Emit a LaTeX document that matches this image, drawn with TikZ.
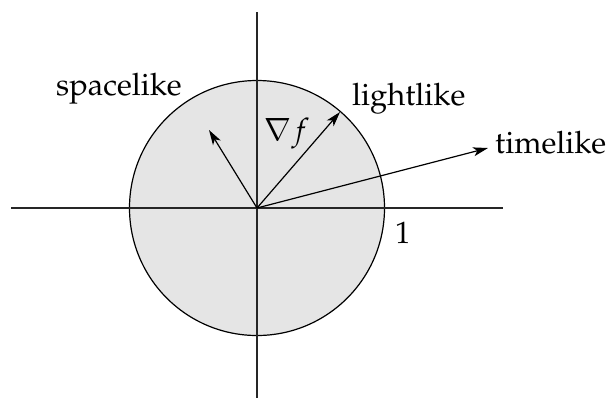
\documentclass[tikz,border=0pt]{standalone}
\usepackage[T1]{fontenc}
\usepackage{mathpazo}
\usetikzlibrary{arrows.meta}
\begin{document}
\begin{tikzpicture}[x=1bp,y=-1bp,
  lbl/.style={anchor=base west,inner sep=0pt,font=\fontsize{31}{36}\selectfont},
  axis/.style={line width=1.3bp,draw=black!85},
  vec/.style={line width=1.2bp,-{Stealth[length=15bp,width=9bp,inset=4bp]}}]
\useasboundingbox (0,0) rectangle (609,401);
\coordinate (O) at (257,208);
\fill[black!10] (O) circle[radius=127.5];
\draw[line width=1.2bp] (O) circle[radius=127.5];
\coordinate (xl) at (11,208);
\coordinate (xr) at (503,208);
\coordinate (yt) at (257,12);
\coordinate (yb) at (257,398);
\draw[axis] (xl) -- (xr);
\draw[axis] (yt) -- (yb);
\coordinate (S) at (209,130);
\coordinate (L) at (340,112);
\coordinate (T) at (488,148);
\draw[vec] (O) -- (S);
\draw[vec] (O) -- (L);
\draw[vec] (O) -- (T);
\node[lbl] (spacelike) at (56,95) {spacelike};
\node[lbl] (lightlike) at (352,105) {lightlike};
\node[lbl] (timelike) at (495,153) {timelike};
\node[lbl] (one) at (395,243) {1};
\node[lbl] (grad) at (264,140) {$\nabla f$};
\end{tikzpicture}
\end{document}
